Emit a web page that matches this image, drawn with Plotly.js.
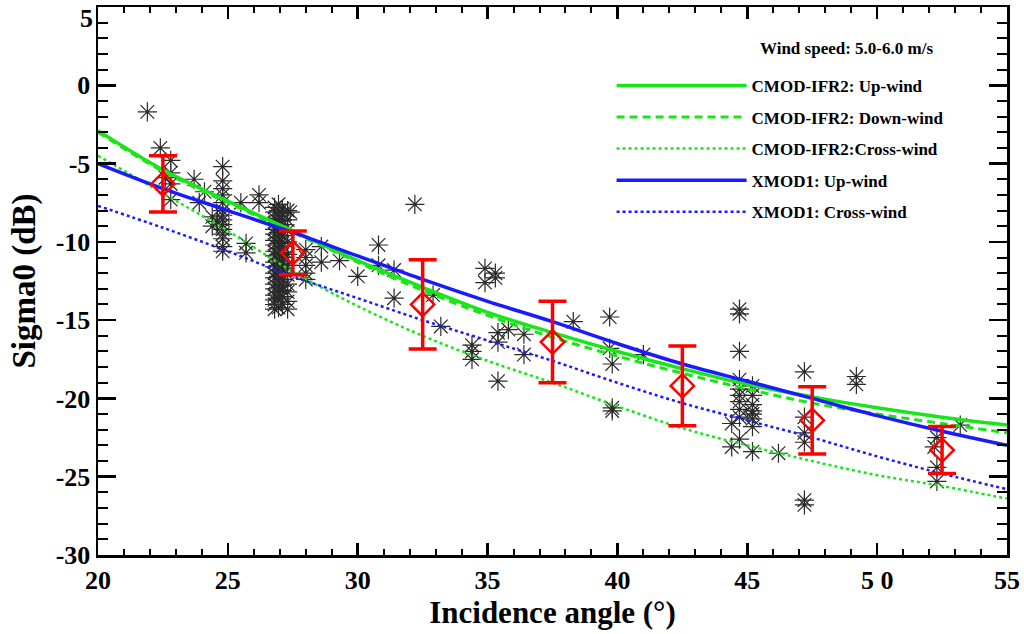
<!DOCTYPE html>
<html>
<head>
<meta charset="utf-8">
<script src="https://cdn.plot.ly/plotly-3.0.1.min.js"></script>
<style>
  html, body { margin: 0; padding: 0; background: #fff; }
  #chart { width: 1024px; height: 634px; }
</style>
</head>
<body>
<div id="chart"></div>
<script>
// model curves (incidence angle in degrees, sigma0 in dB)
const angles = [20, 22.5, 25, 27.5, 30, 32.5, 35, 37.5, 40, 42.5, 45, 47.5, 50, 52.5, 55];
const cmodUp    = [-2.9, -5.4, -7.4, -9.3, -11.2, -12.9, -14.5, -15.8, -17.0, -18.1, -19.1, -19.9, -20.6, -21.2, -21.7];
const cmodDown  = [-3.0, -5.5, -7.5, -9.4, -11.3, -13.1, -14.7, -16.1, -17.3, -18.4, -19.4, -20.3, -21.0, -21.6, -22.2];
const cmodCross = [-4.5, -6.9, -9.3, -11.9, -14.1, -16.0, -17.6, -19.0, -20.5, -21.9, -23.0, -24.0, -24.9, -25.6, -26.4];
const xmodUp    = [-5.0, -6.6, -8.0, -9.4, -10.9, -12.4, -13.8, -15.1, -16.5, -17.8, -18.9, -20.0, -21.1, -22.1, -23.0];
const xmodCross = [-7.7, -9.1, -10.6, -12.2, -13.6, -15.0, -16.3, -17.6, -19.0, -20.3, -21.4, -22.5, -23.7, -24.8, -25.8];

// binned means and standard deviations
const binAngle = [22.5, 27.5, 32.5, 37.5, 42.5, 47.5, 52.5];
const binMean  = [-6.3, -10.7, -14.0, -16.4, -19.2, -21.4, -23.3];
const binStd   = [1.8, 1.4, 2.85, 2.6, 2.55, 2.15, 1.5];

// observed sigma0
const obsAngle = [
  21.9, 22.4, 22.8, 22.8, 22.8, 22.8, 22.6,
  23.7, 23.9, 24.1,
  24.8, 24.8, 24.8, 24.8, 24.8, 24.8, 24.8, 24.8, 24.8, 24.8, 24.8, 24.8, 24.8, 24.8,
  24.4, 24.4, 24.6,
  25.5, 25.7, 25.7, 26.2, 26.2,
  26.8, 26.8, 26.8, 26.8, 26.8, 26.8, 26.8, 26.8, 26.8, 26.8, 26.8, 26.8, 26.8, 26.8, 26.8, 26.8, 26.8, 26.8, 26.8, 26.8,
  26.95, 26.95, 26.95, 26.95, 26.95, 26.95, 26.95, 26.95, 26.95, 26.95, 26.95, 26.95, 26.95, 26.95, 26.95, 26.95, 26.95, 26.95, 26.95,
  27.1, 27.1, 27.1, 27.1, 27.1, 27.1, 27.1, 27.1, 27.1, 27.1, 27.1, 27.1, 27.1, 27.1, 27.1, 27.1, 27.1, 27.1,
  27.3, 27.3, 27.3, 27.3, 27.3, 27.3, 27.3, 27.3, 27.3, 27.3, 27.3,
  27.4, 28.0, 28.0, 28.0, 28.0, 28.0,
  28.6, 28.6, 29.3, 30.0, 30.8, 30.8, 31.4, 31.4, 32.2, 32.9, 33.2,
  34.9, 35.3, 35.3, 34.9,
  34.4, 34.4, 34.4, 35.4, 35.4, 35.8, 36.4, 36.4, 35.4,
  38.3, 39.7, 39.7, 39.8, 39.8, 39.8, 41.0,
  44.7, 44.7, 44.7, 44.7, 44.7, 44.7, 44.7, 44.7, 44.7, 44.4, 44.7, 44.4,
  45.2, 45.2, 45.2, 45.2, 45.2, 45.2, 45.2, 45.2, 46.2,
  47.2, 47.2, 47.2, 47.2, 47.2, 47.2,
  49.2, 49.2,
  53.2, 52.3, 52.3, 52.3, 52.2
];
const obsSigma = [
  -1.7, -4.0, -4.8, -5.6, -6.3, -7.3, -5.9,
  -6.0, -7.5, -6.8,
  -5.2, -6.1, -6.6, -7.0, -7.5, -8.0, -8.3, -8.6, -8.9, -9.2, -9.5, -9.8, -10.3, -10.6,
  -8.4, -9.0, -8.7,
  -7.5, -10.1, -10.7, -7.0, -7.5,
  -7.8, -8.1, -8.5, -8.8, -9.2, -9.5, -9.9, -10.2, -10.6, -10.9, -11.3, -11.6, -12.0, -12.3, -12.7, -13.0, -13.4, -13.7, -14.0, -14.3,
  -7.6, -8.0, -8.3, -8.7, -9.0, -9.4, -9.7, -10.1, -10.4, -10.8, -11.1, -11.5, -11.8, -12.2, -12.5, -12.9, -13.2, -13.6, -14.2,
  -7.9, -8.2, -8.6, -8.9, -9.3, -9.6, -10.0, -10.3, -10.7, -11.0, -11.4, -11.7, -12.1, -12.4, -12.8, -13.1, -13.5, -14.0,
  -8.0, -8.6, -9.3, -10.0, -10.8, -11.5, -12.1, -12.7, -13.2, -13.8, -14.3,
  -8.1, -10.5, -11.0, -11.5, -12.0, -12.4,
  -10.3, -11.3, -11.2, -12.2, -10.2, -11.5, -11.8, -13.6, -7.6, -13.4, -15.4,
  -11.7, -12.0, -12.3, -12.6,
  -16.6, -17.0, -17.5, -15.8, -16.4, -15.6, -15.9, -17.2, -18.9,
  -15.1, -14.8, -16.8, -17.8, -20.6, -20.8, -17.2,
  -14.3, -14.6, -17.0, -18.8, -19.4, -19.8, -20.2, -20.7, -21.2, -21.6, -22.6, -23.1,
  -19.2, -19.8, -20.4, -20.8, -21.0, -21.3, -21.8, -23.4, -23.5,
  -18.3, -21.2, -22.2, -22.8, -26.5, -26.8,
  -18.6, -19.1,
  -21.7, -22.5, -24.4, -25.3, -23.1
];

// axis tick labels (the top "5" sits a little below its tick, as in the original)
const xTicks = [20, 25, 30, 35, 40, 45, 50, 55];
const xTickText = ['20', '25', '30', '35', '40', '45', '5 0', '55'];
const yTicks = [-30, -25, -20, -15, -10, -5, 0, 5];
const yTickText = ['-30', '-25', '-20', '-15', '-10', '-5', '0', ''];
const yTopLabel = '5';

const GREEN = '#19e619';
const BLUE = '#1a1aff';
const font = 'Liberation Serif, Times New Roman, serif';
const bold = s => s ? '<b>' + s + '</b>' : '';

function curve(y, name, color, dash, width) {
  return {
    x: angles, y: y, name: name, type: 'scatter', mode: 'lines',
    line: {color: color, dash: dash, width: width, shape: 'spline'},
    legendgroup: name
  };
}

const data = [
  {
    x: obsAngle, y: obsSigma, type: 'scatter', mode: 'markers', showlegend: false,
    marker: {symbol: 'asterisk-open', size: 16, color: '#2a2a2a', line: {color: '#2a2a2a', width: 1.2}}
  },
  curve(cmodUp, 'CMOD-IFR2: Up-wind', GREEN, 'solid', 3.5),
  curve(cmodDown, 'CMOD-IFR2: Down-wind', GREEN, '8px,5px', 3),
  curve(cmodCross, 'CMOD-IFR2:Cross-wind', GREEN, 'dot', 2.5),
  curve(xmodUp, 'XMOD1: Up-wind', BLUE, 'solid', 3.5),
  curve(xmodCross, 'XMOD1: Cross-wind', BLUE, 'dot', 2.5),
  {
    x: binAngle, y: binMean, type: 'scatter', mode: 'markers', showlegend: false,
    marker: {symbol: 'diamond-open', size: 18, color: '#ff0000', line: {color: '#ff0000', width: 2.5}},
    error_y: {type: 'data', array: binStd, visible: true, color: '#ff0000', thickness: 3.5, width: 14}
  }
];

const axisCommon = {
  showline: true, linecolor: '#000', linewidth: 2.5, mirror: 'ticks',
  ticks: 'inside', tickcolor: '#000', tickwidth: 2.5,
  showgrid: false, zeroline: false,
  tickfont: {family: font, size: 26, color: '#000'}
};

const layout = {
  width: 1024, height: 634,
  margin: {l: 98, r: 17, t: 7, b: 79},
  paper_bgcolor: '#fff', plot_bgcolor: '#fff',
  showlegend: true,
  legend: {
    x: 0.565, y: 0.889, xanchor: 'left', yanchor: 'top',
    itemwidth: 130, traceorder: 'grouped', tracegroupgap: 6.5,
    font: {family: font, size: 17, color: '#000', weight: 'bold'},
    bgcolor: 'rgba(0,0,0,0)'
  },
  xaxis: Object.assign({}, axisCommon, {
    range: [20, 55],
    tickvals: xTicks,
    ticktext: xTickText.map(bold),
    ticklen: 12,
    minor: {ticks: 'inside', dtick: 1, ticklen: 6, tickcolor: '#000', tickwidth: 2},
    title: {text: bold('Incidence angle (°)'), standoff: 0,
            font: {family: font, size: 31, color: '#000'}}
  }),
  yaxis: Object.assign({}, axisCommon, {
    range: [-30, 5],
    tickvals: yTicks,
    ticktext: yTickText.map(bold),
    ticklen: 18,
    minor: {ticks: 'inside', dtick: 1, ticklen: 10, tickcolor: '#000', tickwidth: 2},
    title: {text: bold('Sigma0 (dB)'), standoff: 10,
            font: {family: font, size: 33, color: '#000'}}
  }),
  annotations: [
    {
      xref: 'paper', yref: 'paper', x: 0.726, y: 0.925, xanchor: 'left', yanchor: 'middle',
      text: bold('Wind speed: 5.0-6.0 m/s'), showarrow: false,
      font: {family: font, size: 17, color: '#000'}
    },
    {
      xref: 'paper', yref: 'y', x: 0, y: 5, xanchor: 'right', yanchor: 'middle',
      xshift: -3, yshift: -11,
      text: bold(yTopLabel), showarrow: false,
      font: {family: font, size: 26, color: '#000'}
    }
  ]
};

Plotly.newPlot('chart', data, layout, {displayModeBar: false, staticPlot: true});
</script>
</body>
</html>
